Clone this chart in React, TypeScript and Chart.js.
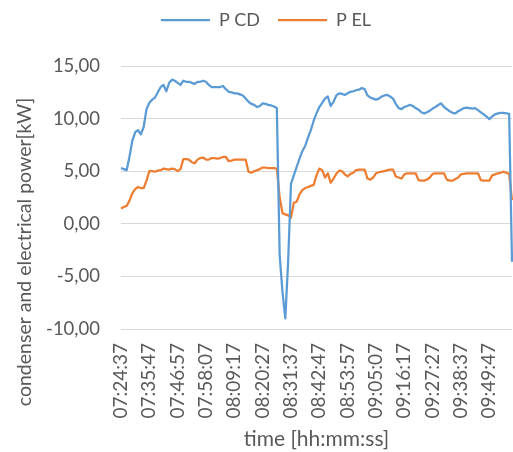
import { useEffect, useRef } from 'react';
import { Chart, registerables } from 'chart.js';

Chart.register(...registerables);

const tickLabels = [
  '07:24:37', '07:35:47', '07:46:57', '07:58:07', '08:09:17', '08:20:27', '08:31:37',
  '08:42:47', '08:53:57', '09:05:07', '09:16:17', '09:27:27', '09:38:37', '09:49:47',
];

const pCD = [
  5.3, 5.2, 5.1, 6.4, 7.9, 8.7, 8.9, 8.5, 9.2, 10.9,
  11.5, 11.8, 12.0, 12.5, 13.0, 13.2, 12.6, 13.4, 13.7, 13.6,
  13.4, 13.2, 13.6, 13.5, 13.5, 13.4, 13.3, 13.5, 13.5, 13.6,
  13.5, 13.2, 13.0, 13.0, 13.0, 13.0, 13.1, 12.8, 12.55, 12.5,
  12.4, 12.4, 12.3, 12.2, 11.9, 11.6, 11.4, 11.3, 11.1, 11.2,
  11.45, 11.4, 11.3, 11.25, 11.15, 11.0, -3.0, -6.5, -9.0, -3.5,
  3.8, 4.6, 5.4, 6.2, 6.9, 7.4, 8.2, 8.9, 9.8, 10.5,
  11.1, 11.5, 11.9, 12.1, 11.2, 11.6, 12.2, 12.4, 12.35, 12.25,
  12.4, 12.55, 12.6, 12.7, 12.75, 12.9, 12.8, 12.2, 12.0, 11.9,
  11.8, 11.9, 12.1, 12.2, 12.25, 12.1, 11.9, 11.4, 11.0, 10.9,
  11.1, 11.2, 11.3, 11.2, 11.0, 10.85, 10.6, 10.5, 10.6, 10.75,
  10.95, 11.1, 11.3, 11.45, 11.1, 10.9, 10.7, 10.55, 10.5, 10.7,
  10.85, 11.0, 11.05, 11.0, 10.95, 11.0, 10.8, 10.6, 10.4, 10.2,
  9.95, 10.2, 10.4, 10.5, 10.55, 10.55, 10.5, 10.45, -3.6,
];

const pEL = [
  1.45, 1.6, 1.7, 2.2, 2.9, 3.3, 3.5, 3.4, 3.4, 4.1,
  5.0, 5.0, 4.95, 5.05, 5.1, 5.25, 5.2, 5.15, 5.25, 5.2,
  5.0, 5.2, 6.15, 6.15, 6.1, 5.85, 5.75, 6.1, 6.25, 6.3,
  6.1, 6.1, 6.25, 6.25, 6.2, 6.25, 6.35, 6.35, 5.95, 6.0,
  6.1, 6.1, 6.1, 6.1, 6.1, 4.95, 4.85, 5.0, 5.1, 5.2,
  5.35, 5.35, 5.3, 5.3, 5.3, 5.25, 2.5, 1.0, 0.9, 0.8,
  0.6, 2.0, 2.1, 2.8, 3.2, 3.4, 3.5, 3.6, 3.7, 4.6,
  5.25, 5.1, 4.4, 4.8, 3.9, 4.3, 4.75, 5.05, 5.0, 4.7,
  4.5, 4.75, 4.85, 5.1, 5.15, 5.15, 5.15, 4.3, 4.2, 4.4,
  4.8, 4.9, 4.95, 5.0, 5.1, 5.15, 5.15, 4.5, 4.4, 4.3,
  4.7, 4.8, 4.8, 4.8, 4.8, 4.15, 4.1, 4.1, 4.2, 4.4,
  4.75, 4.8, 4.8, 4.8, 4.8, 4.2, 4.1, 4.1, 4.25, 4.4,
  4.7, 4.75, 4.8, 4.8, 4.8, 4.8, 4.8, 4.15, 4.1, 4.1,
  4.1, 4.6, 4.7, 4.8, 4.85, 4.95, 4.85, 4.75, 2.25,
];

const seriesNames = ['P CD', 'P EL'];
const yTitle = 'condenser and electrical power[kW]';
const xTitle = 'time [hh:mm:ss]';
const POINTS_PER_LABEL = 10;

const FONT = 'Lato';
const TEXT = '#595959';
const BLUE = '#5B9BD5';
const ORANGE = '#ED7D31';
const GRID = '#D9D9D9';

const categories = pCD.map((_, i) =>
  i % POINTS_PER_LABEL === 0 && tickLabels[i / POINTS_PER_LABEL] ? tickLabels[i / POINTS_PER_LABEL] : ''
);

const legendHeightPlugin = {
  id: 'legendHeight',
  beforeLayout(chart: any) {
    const legend = chart.legend;
    if (legend && !legend.__patched) {
      const orig = legend.fit;
      legend.fit = function () {
        orig.call(this);
        this.height = 73;
      };
      legend.__patched = true;
    }
  },
};

const yTitlePlugin = {
  id: 'yTitleCustom',
  afterDraw(chart: any) {
    const ctx = chart.ctx;
    ctx.save();
    ctx.translate(25, 252);
    ctx.rotate(-Math.PI / 2);
    ctx.font = `19.5px ${FONT}`;
    ctx.fillStyle = TEXT;
    ctx.textAlign = 'center';
    ctx.textBaseline = 'middle';
    ctx.fillText(yTitle, 0, 0);
    ctx.restore();
  },
};

export default function App() {
  const ref = useRef<HTMLCanvasElement | null>(null);

  useEffect(() => {
    if (!ref.current) return;
    const chart = new Chart(ref.current, {
      type: 'line',
      data: {
        labels: categories,
        datasets: [
          {
            label: seriesNames[0],
            data: pCD,
            borderColor: BLUE,
            backgroundColor: BLUE,
            borderWidth: 2.25,
            pointRadius: 0,
            tension: 0,
            borderJoinStyle: 'round',
            fill: false,
          },
          {
            label: seriesNames[1],
            data: pEL,
            borderColor: ORANGE,
            backgroundColor: ORANGE,
            borderWidth: 2.25,
            pointRadius: 0,
            tension: 0,
            borderJoinStyle: 'round',
            fill: false,
          },
        ],
      },
      options: {
        animation: false,
        responsive: false,
        maintainAspectRatio: false,
        layout: { padding: { top: -7, left: 20, right: 1, bottom: 0 } },
        plugins: {
          legend: {
            position: 'top',
            labels: {
              usePointStyle: true,
              pointStyle: 'line',
              pointStyleWidth: 49,
              padding: 18,
              color: TEXT,
              font: { family: FONT, size: 18 },
            },
          },
          tooltip: { enabled: false },
        },
        scales: {
          x: {
            type: 'category',
            grid: { display: false, drawTicks: false },
            border: { display: false },
            ticks: {
              autoSkip: false,
              maxRotation: 90,
              minRotation: 90,
              padding: 14,
              color: TEXT,
              font: { family: FONT, size: 19 },
            },
            title: {
              display: true,
              text: xTitle,
              color: TEXT,
              font: { family: FONT, size: 21 },
              padding: { top: 0, bottom: 0 },
            },
            afterFit(s: any) {
              s.height = 123;
              s.paddingLeft = 0;
              s.paddingRight = 0;
            },
          },
          y: {
            min: -10,
            max: 15,
            ticks: {
              stepSize: 5,
              padding: 21,
              color: TEXT,
              font: { family: FONT, size: 18.5 },
              callback: (v: any) => Number(v).toFixed(2).replace('.', ','),
            },
            grid: { color: GRID, lineWidth: 1, drawTicks: false },
            border: { display: false },
            afterFit(s: any) {
              s.width = 101;
              s.paddingTop = 0;
              s.paddingBottom = 0;
            },
          },
        },
      },
      plugins: [legendHeightPlugin, yTitlePlugin],
    } as any);
    return () => chart.destroy();
  }, []);

  return (
    <div style={{ position: 'absolute', left: 0, top: 0, width: 513, height: 452, background: '#fff' }}>
      <canvas ref={ref} width={513} height={452} style={{ width: 513, height: 452, display: 'block' }} />
    </div>
  );
}
